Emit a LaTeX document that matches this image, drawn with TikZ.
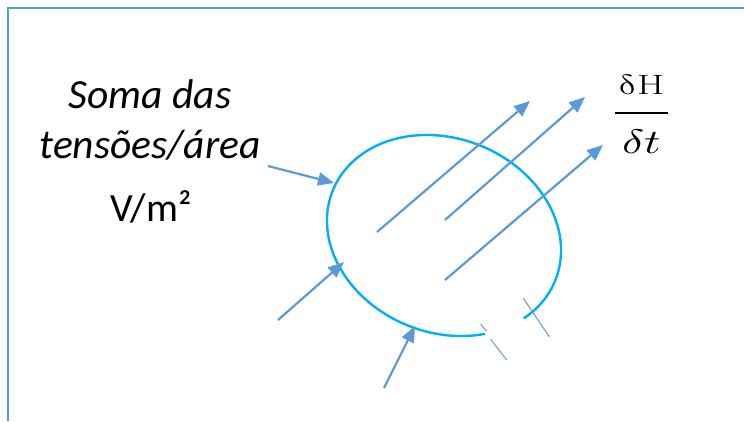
\documentclass[tikz,border=0pt]{standalone}
\usepackage{fontspec}
\usepackage{graphicx}
\usepackage{unicode-math}
\setmathfont{Latin Modern Math}
\newfontfamily\carl{Carlito}
\usetikzlibrary{arrows.meta}
\definecolor{frameblue}{HTML}{5B9BD5}
\definecolor{ellcyan}{HTML}{00B0F0}
\begin{document}
\begin{tikzpicture}[x=1pt,y=-1pt,
  arr/.style={draw=frameblue, line width=2.2pt, -{Triangle[length=16pt,width=13pt]}},
  tickline/.style={draw=frameblue, line width=1pt},
  ell/.style={draw=ellcyan, line width=2.4pt},
  lbl/.style={inner sep=0pt, text=black},
  fracbar/.style={draw=black, line width=2pt}]
\useasboundingbox (0,0) rectangle (744,421);
\draw[frameblue, line width=2pt] (8,421) -- (8,8) -- (744,8);
% closed-contour (open arc)
\begin{scope}[shift={(444,235.5)}, rotate=-22]
\draw[ell] plot[smooth, domain=51.5:389, samples=120] ({120*cos(\x)},{97*sin(\x)});
\end{scope}
% coordinates
\coordinate (a1s) at (377,232); \coordinate (a1e) at (530,101);
\coordinate (a2s) at (445,220); \coordinate (a2e) at (585,97);
\coordinate (a3s) at (445,280); \coordinate (a3e) at (603,145);
\coordinate (i1s) at (268,166); \coordinate (i1e) at (334,183);
\coordinate (i2s) at (278,320); \coordinate (i2e) at (344,262);
\coordinate (i3s) at (384,388); \coordinate (i3e) at (415,326);
\coordinate (t1a) at (480.7,324.3); \coordinate (t1b) at (486.5,331);
\coordinate (t2a) at (490.7,339.3); \coordinate (t2b) at (506.7,360);
\coordinate (t3a) at (523.3,298.3); \coordinate (t3b) at (549.3,336.7);
% arrows
\draw[arr] (a1s) -- (a1e);
\draw[arr] (a2s) -- (a2e);
\draw[arr] (a3s) -- (a3e);
\draw[arr] (i1s) -- (i1e);
\draw[arr] (i2s) -- (i2e);
\draw[arr] (i3s) -- (i3e);
% ticks
\draw[tickline] (t1a) -- (t1b);
\draw[tickline] (t2a) -- (t2b);
\draw[tickline] (t3a) -- (t3b);
% texts
\node[lbl, font=\carl\itshape\fontsize{41.5}{50}\selectfont, align=center, anchor=base] (soma) at (150,158) {Soma das\\tensões/área};
\node[lbl, font=\carl\fontsize{40}{44}\selectfont, anchor=base] (unit) at (151,221) {V/m²};
% fraction dH/dt
\node[lbl, anchor=base] (num) at (641.5,94) {\fontsize{28}{34}\selectfont\scalebox{1.4}[1]{$\symup{\delta}\mathrm{H}$}};
\node[lbl, anchor=base] (den) at (641.5,153.5) {\fontsize{34}{40}\selectfont\scalebox{1.35}[1]{$\delta t$}};
\coordinate (barl) at (615,112.7); \coordinate (barr) at (668,112.7);
\draw[fracbar] (barl) -- (barr);
\end{tikzpicture}
\end{document}
